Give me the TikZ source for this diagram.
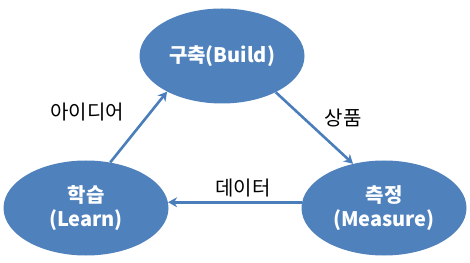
\documentclass[tikz,border=0pt]{standalone}
\usepackage{fontspec}
\setmainfont{Noto Sans CJK KR}
\usetikzlibrary{shapes.geometric,arrows.meta}
\definecolor{stageblue}{RGB}{79,129,189}
\definecolor{flowblue}{RGB}{74,126,187}
\tikzset{
  stage/.style={ellipse, fill=stageblue, text=white, font=\fontsize{20}{24}\selectfont\bfseries,
    minimum width=165pt, minimum height=95pt, inner sep=0pt, align=center},
  flow/.style={draw=flowblue, line width=2.6pt, -{Stealth[length=9pt,width=10pt]}},
  flowlabel/.style={font=\fontsize{20}{24}\selectfont, text=black}
}
\begin{document}
\begin{tikzpicture}[x=1pt,y=1pt]
  \useasboundingbox (0,0) rectangle (470,262);
  % Three stages of the loop
  \node[stage] (build)   at (222,206) {구축(Build)};
  \node[stage] (learn)   at (86,54)   {학습\\(Learn)};
  \node[stage] (measure) at (384,54)  {측정\\(Measure)};
  % Arrows between the stages
  \draw[flow] (learn.62) -- (build.213);
  \draw[flow] (build.-34) -- (measure.125);
  \draw[flow] (measure.176) -- (learn.4);
  % Arrow labels
  \node[flowlabel] (idea)    at (87,150)  {아이디어};
  \node[flowlabel] (product) at (343,144) {상품};
  \node[flowlabel] (data)    at (243,74)  {데이터};
\end{tikzpicture}
\end{document}
